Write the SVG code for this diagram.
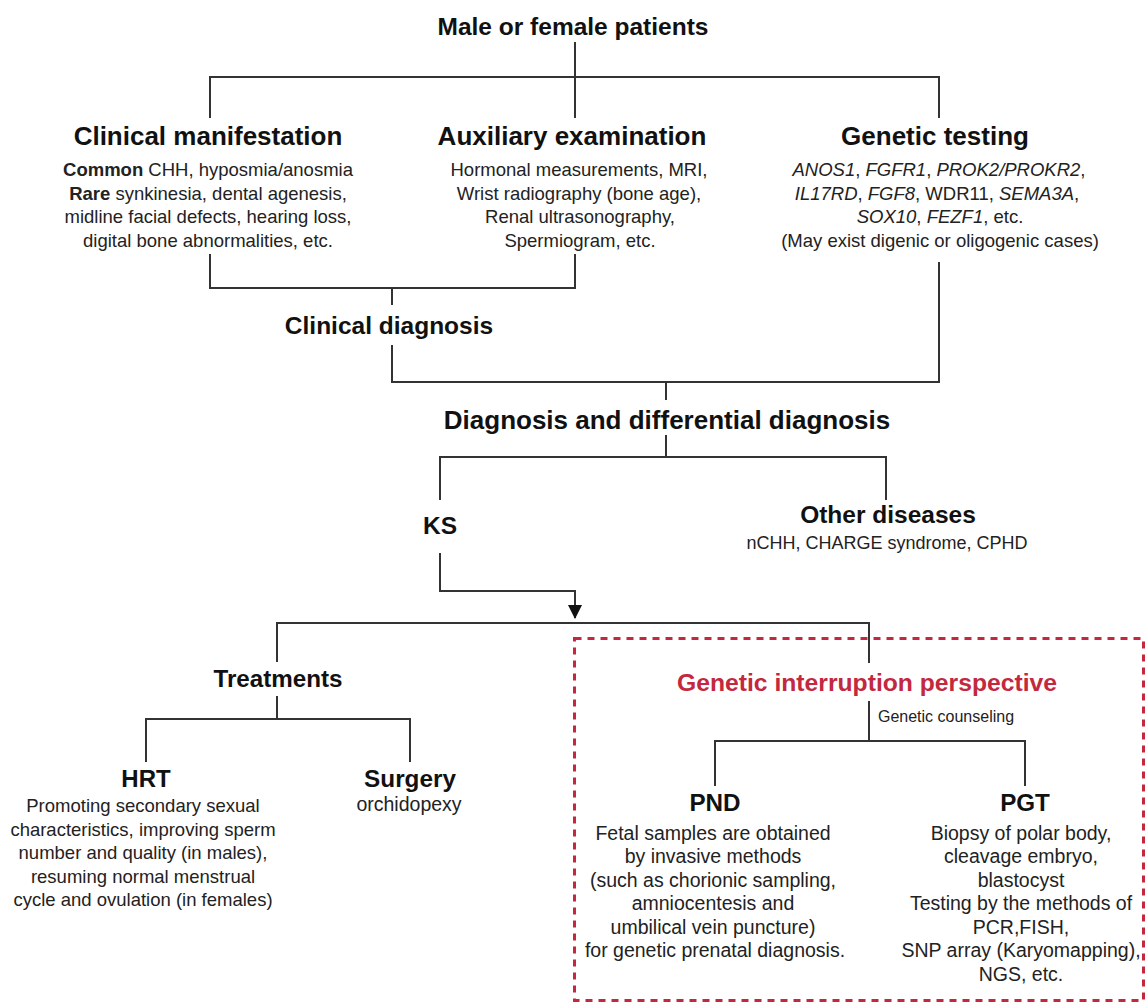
<svg xmlns="http://www.w3.org/2000/svg" width="1147" height="1006" viewBox="0 0 1147 1006">
<defs>
<style>
.t{font-family:"Liberation Sans",Arial,sans-serif;font-weight:bold;fill:#111;text-anchor:middle}
.b{font-family:"Liberation Sans",Arial,sans-serif;fill:#222;text-anchor:middle}
.bb{font-weight:bold}
.i{font-style:italic}
.c{fill:none;stroke:#333;stroke-width:2}
.red{fill:#c3283f}
</style>
<marker id="ah" viewBox="0 0 14 14" refX="13" refY="7" markerWidth="14" markerHeight="14" markerUnits="userSpaceOnUse" orient="auto">
<path d="M0,0 L14,7 L0,14 z" fill="#111"/>
</marker>
</defs>
<rect width="1147" height="1006" fill="#fff"/>

<g id="connectors">
<path class="c" d="M575 42 V118"/>
<path class="c" d="M210 118 V77 H939 V118" stroke-width="2.5"/>
<path class="c" d="M210 254 V288 H575 V254"/>
<path class="c" d="M392 288 V305"/>
<path class="c" d="M392 345 V382 H939 V262"/>
<path class="c" d="M666 382 V400"/>
<path class="c" d="M666 435 V457"/>
<path class="c" d="M440 500 V457 H886 V500"/>
<path class="c" d="M440 553 V591 H575 V618" marker-end="url(#ah)"/>
<path class="c" d="M277 662 V623 H869 V663"/>
<path class="c" d="M277 696 V719"/>
<path class="c" d="M146 762 V719 H410 V762"/>
<path class="c" d="M869 701 V741"/>
<path class="c" d="M715 786 V741 H1025 V786"/>
</g>

<rect id="genetic-box" x="574.5" y="638.5" width="569" height="362" fill="none" stroke="#c3283f" stroke-width="3" stroke-dasharray="7 6"/>

<g id="patients">
<text class="t" x="573" y="35" font-size="24.5">Male or female patients</text>
</g>

<g id="clinical-manifestation">
<text class="t" x="208" y="145" font-size="26">Clinical manifestation</text>
<text class="b" x="208" y="176" font-size="18.5"><tspan class="bb">Common</tspan> CHH, hyposmia/anosmia</text>
<text class="b" x="208" y="199.5" font-size="18.5"><tspan class="bb">Rare</tspan> synkinesia, dental agenesis,</text>
<text class="b" x="208" y="223" font-size="18.5">midline facial defects, hearing loss,</text>
<text class="b" x="208" y="246.5" font-size="18.5">digital bone abnormalities, etc.</text>
</g>

<g id="auxiliary-examination">
<text class="t" x="572" y="145" font-size="26">Auxiliary examination</text>
<text class="b" x="579" y="176" font-size="18.5">Hormonal measurements, MRI,</text>
<text class="b" x="579" y="199.5" font-size="18.5">Wrist radiography (bone age),</text>
<text class="b" x="580" y="223" font-size="18.5">Renal ultrasonography,</text>
<text class="b" x="580" y="246.5" font-size="18.5">Spermiogram, etc.</text>
</g>

<g id="genetic-testing">
<text class="t" x="935" y="145" font-size="26">Genetic testing</text>
<text class="b" x="939" y="176" font-size="18.5"><tspan class="i">ANOS1</tspan>, <tspan class="i">FGFR1</tspan>, <tspan class="i">PROK2/PROKR2</tspan>,</text>
<text class="b" x="937" y="199.5" font-size="18.5"><tspan class="i">IL17RD</tspan>, <tspan class="i">FGF8</tspan>, WDR11, <tspan class="i">SEMA3A</tspan>,</text>
<text class="b" x="940" y="223" font-size="18.5"><tspan class="i">SOX10</tspan>, <tspan class="i">FEZF1</tspan>, etc.</text>
<text class="b" x="940" y="246.5" font-size="18.5">(May exist digenic or oligogenic cases)</text>
</g>

<g id="clinical-diagnosis">
<text class="t" x="389" y="334" font-size="24.5">Clinical diagnosis</text>
</g>

<g id="diagnosis">
<text class="t" x="667" y="429" font-size="26">Diagnosis and differential diagnosis</text>
</g>

<g id="ks">
<text class="t" x="440" y="534" font-size="24.5">KS</text>
</g>

<g id="other-diseases">
<text class="t" x="888" y="523" font-size="24.5">Other diseases</text>
<text class="b" x="887" y="548.5" font-size="18">nCHH, CHARGE syndrome, CPHD</text>
</g>

<g id="treatments">
<text class="t" x="278" y="686.5" font-size="24.2">Treatments</text>
</g>

<g id="hrt">
<text class="t" x="146" y="786.5" font-size="24">HRT</text>
<text class="b" x="143" y="812" font-size="18.5">Promoting secondary sexual</text>
<text class="b" x="143" y="835.5" font-size="18.5">characteristics, improving sperm</text>
<text class="b" x="143" y="859" font-size="18.5">number and quality (in males),</text>
<text class="b" x="143" y="882.5" font-size="18.5">resuming normal menstrual</text>
<text class="b" x="143" y="906" font-size="18.5">cycle and ovulation (in females)</text>
</g>

<g id="surgery">
<text class="t" x="410" y="786.5" font-size="24.3">Surgery</text>
<text class="b" x="409" y="811" font-size="19.5">orchidopexy</text>
</g>

<g id="genetic-interruption">
<text class="t red" x="867" y="690.5" font-size="24.7">Genetic interruption perspective</text>
<text class="b" x="946" y="721.5" font-size="16">Genetic counseling</text>
</g>

<g id="pnd">
<text class="t" x="715" y="811" font-size="24.2">PND</text>
<text class="b" x="713" y="839.5" font-size="19.5">Fetal samples are obtained</text>
<text class="b" x="713" y="863" font-size="19.5">by invasive methods</text>
<text class="b" x="713" y="886.5" font-size="19.5">(such as chorionic sampling,</text>
<text class="b" x="713" y="910" font-size="19.5">amniocentesis and</text>
<text class="b" x="713" y="933.5" font-size="19.5">umbilical vein puncture)</text>
<text class="b" x="715" y="957" font-size="19.5">for genetic prenatal diagnosis.</text>
</g>

<g id="pgt">
<text class="t" x="1025" y="811" font-size="24.2">PGT</text>
<text class="b" x="1021" y="839.5" font-size="19.5">Biopsy of polar body,</text>
<text class="b" x="1021" y="863" font-size="19.5">cleavage embryo,</text>
<text class="b" x="1021" y="886.5" font-size="19.5">blastocyst</text>
<text class="b" x="1021" y="910" font-size="19.5">Testing by the methods of</text>
<text class="b" x="1021" y="933.5" font-size="19.5">PCR,FISH,</text>
<text class="b" x="1021" y="957" font-size="19.5">SNP array (Karyomapping),</text>
<text class="b" x="1021" y="980.5" font-size="19.5">NGS, etc.</text>
</g>
</svg>
